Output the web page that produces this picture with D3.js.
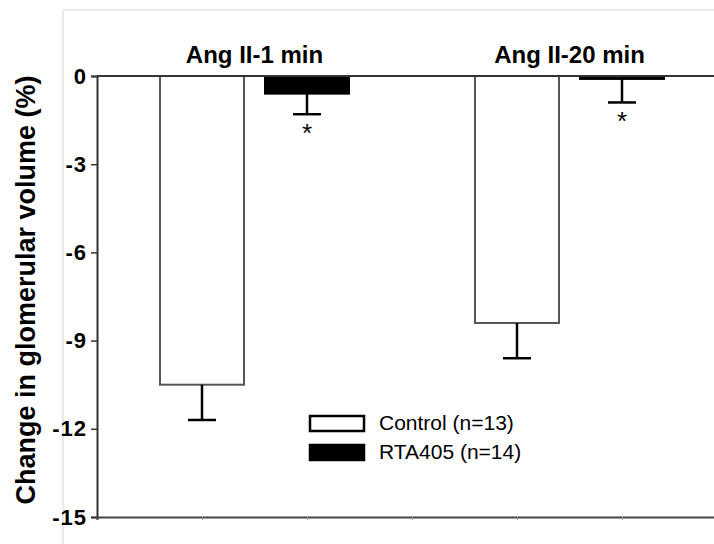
<!DOCTYPE html>
<html>
<head>
    <meta charset="UTF-8">
    <title>Glomerular volume</title>
    <script src="https://cdn.jsdelivr.net/npm/d3@7"></script>
    <style>
        body { margin: 0; background: #fff; }
        text { font-family: "Liberation Sans", Arial, sans-serif; }
    </style>
</head>
<body>
<script>
    // values
    var groups = ["Ang II-1 min", "Ang II-20 min"];
    var seriesNames = ["Control (n=13)", "RTA405 (n=14)"];
    var controlMean = [-10.5, -8.4];
    var controlErr = [1.2, 1.2];
    var rtaMean = [-0.6, -0.1];
    var rtaErr = [0.7, 0.8];
    var rtaSignificant = [true, true];
    var yTicks = [0, -3, -6, -9, -12, -15];

    var width = 714, height = 544;

    var svg = d3.select("body").append("svg")
        .attr("width", width)
        .attr("height", height);

    // faint outer frame
    svg.append("rect")
        .attr("x", 63).attr("y", 10)
        .attr("width", 700).attr("height", 600)
        .attr("fill", "none")
        .attr("stroke", "#e2e2e2")
        .attr("stroke-width", 1.5);

    // slot 0 is the axis, bars sit at 1,2 and 4,5
    var x = d3.scaleLinear().domain([0, 6]).range([97, 727]);
    var y = d3.scaleLinear().domain([-15, 0]).range([517, 76]);
    var barW = (x(1) - x(0)) * 0.8;

    var bars = [];
    groups.forEach(function (g, i) {
        bars.push({group: i, series: 0, mean: controlMean[i], err: controlErr[i], star: false});
        bars.push({group: i, series: 1, mean: rtaMean[i], err: rtaErr[i], star: rtaSignificant[i]});
    });
    function pos(d) { return 1 + d.group * 3 + d.series; }

    // y axis
    var yAxis = svg.append("g")
        .attr("transform", "translate(" + x(0) + ",0)")
        .call(d3.axisLeft(y).tickValues(yTicks).tickSize(6).tickPadding(4).tickFormat(d3.format("d")));
    yAxis.select(".domain").attr("stroke", "#333").attr("stroke-width", 2);
    yAxis.selectAll(".tick line").attr("stroke", "#333").attr("stroke-width", 1.5);
    yAxis.selectAll(".tick text")
        .attr("fill", "#000")
        .style("font-size", "22px")
        .style("font-weight", "bold")
        .style("letter-spacing", "1px")
        .text(function (d) { return d === 0 ? "0" : "-" + Math.abs(d); });

    // bottom axis
    var xAxis = svg.append("g")
        .attr("transform", "translate(0," + y(-15) + ")")
        .call(d3.axisBottom(x).tickValues([1, 2, 3, 4, 5]).tickSize(3).tickFormat(""));
    xAxis.select(".domain").attr("stroke", "#444").attr("stroke-width", 2);
    xAxis.selectAll(".tick line").attr("stroke", "#999").attr("stroke-width", 1);

    // bars
    svg.selectAll("rect.bar")
        .data(bars)
        .enter().append("rect")
        .attr("class", "bar")
        .attr("x", function (d) { return x(pos(d)) - barW / 2; })
        .attr("y", y(0))
        .attr("width", barW)
        .attr("height", function (d) { return y(d.mean) - y(0); })
        .attr("fill", function (d) { return d.series === 0 ? "#fff" : "#000"; })
        .attr("stroke", function (d) { return d.series === 0 ? "#555" : "#000"; })
        .attr("stroke-width", 2);

    // zero line
    svg.append("line")
        .attr("x1", x(0)).attr("x2", width)
        .attr("y1", y(0)).attr("y2", y(0))
        .attr("stroke", "#333").attr("stroke-width", 2);

    // error bars
    var eb = svg.selectAll("g.err")
        .data(bars)
        .enter().append("g")
        .attr("class", "err")
        .attr("stroke", "#000")
        .attr("stroke-width", 2.5);
    eb.append("line")
        .attr("x1", function (d) { return x(pos(d)); })
        .attr("x2", function (d) { return x(pos(d)); })
        .attr("y1", function (d) { return y(d.mean); })
        .attr("y2", function (d) { return y(d.mean - d.err); });
    eb.append("line")
        .attr("x1", function (d) { return x(pos(d)) - 14; })
        .attr("x2", function (d) { return x(pos(d)) + 14; })
        .attr("y1", function (d) { return y(d.mean - d.err); })
        .attr("y2", function (d) { return y(d.mean - d.err); });

    // significance stars
    svg.selectAll("text.star")
        .data(bars.filter(function (d) { return d.star; }))
        .enter().append("text")
        .attr("class", "star")
        .attr("x", function (d) { return x(pos(d)); })
        .attr("y", function (d) { return y(d.mean - d.err) + 28; })
        .attr("text-anchor", "middle")
        .style("font-size", "26px")
        .text("*");

    // group titles
    svg.selectAll("text.group")
        .data(groups)
        .enter().append("text")
        .attr("class", "group")
        .attr("x", function (d, i) { return x(1.5 + i * 3); })
        .attr("y", 63)
        .attr("text-anchor", "middle")
        .style("font-size", "24px")
        .style("font-weight", "bold")
        .text(function (d) { return d; });

    // y label
    svg.append("text")
        .attr("transform", "translate(35,290) rotate(-90)")
        .attr("text-anchor", "middle")
        .style("font-size", "27px")
        .style("font-weight", "bold")
        .text("Change in glomerular volume (%)");

    // legend
    var legend = svg.append("g").attr("transform", "translate(310,416)");
    seriesNames.forEach(function (s, i) {
        var row = legend.append("g").attr("transform", "translate(0," + i * 29 + ")");
        row.append("rect")
            .attr("width", 54).attr("height", 15)
            .attr("fill", i === 0 ? "#fff" : "#000")
            .attr("stroke", "#000")
            .attr("stroke-width", 2.5);
        row.append("text")
            .attr("x", 69).attr("y", 14)
            .style("font-size", "21px")
            .text(s);
    });
</script>
</body>
</html>
